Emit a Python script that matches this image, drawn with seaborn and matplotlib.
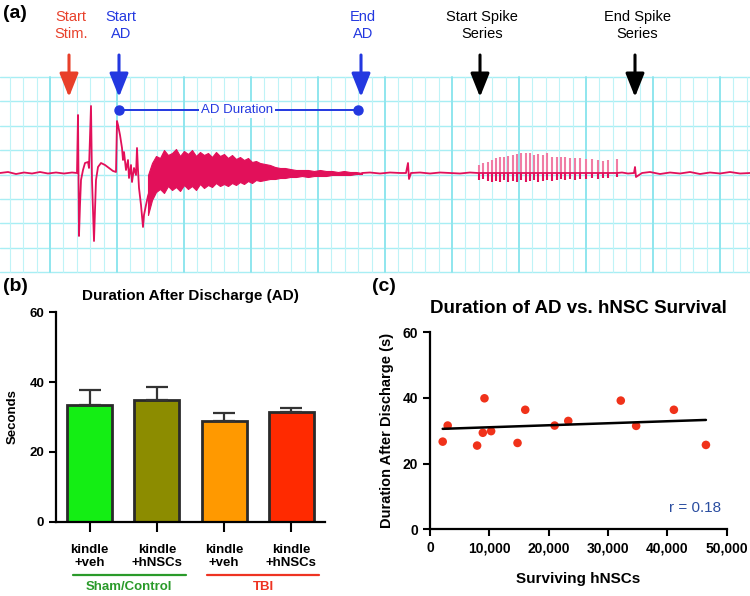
import numpy as np
import pandas as pd
import matplotlib
matplotlib.use("Agg")
import matplotlib.pyplot as plt
import seaborn as sns

# ---- (a) EEG trace (pixel coords, y grows downward) ----
trace_x = [0, 8, 16, 24, 32, 40, 48, 56, 64, 72, 77, 78, 79, 80, 81, 83, 85, 88, 89, 91, 92,
           94, 95, 96, 98, 101, 105, 109, 113, 116, 117, 118, 120, 122, 123, 124, 126, 128,
           129, 131, 132, 134, 136, 137, 138, 139, 141, 143, 144, 146, 148, 150]
trace_y = [173, 172, 174, 172.5, 173.5, 172, 173.5, 172.5, 173.5, 172.5, 173, 115, 236, 205,
           180, 170, 163, 162, 168, 106, 180, 241, 210, 180, 167, 163, 165, 168, 171, 172, 121,
           125, 135, 148, 160, 152, 170, 160, 178, 165, 182, 168, 175, 148, 170, 188, 205, 227,
           215, 205, 196, 190]

band_x = [148, 152, 156, 160, 164, 168, 172, 176, 180, 184, 188, 192, 196, 200, 204, 208,
          212, 216, 220, 224, 228, 232, 236, 240, 244, 248, 252, 256, 260, 265, 270, 275, 280,
          285, 290, 296, 302, 308, 314, 320, 326, 332, 338, 344, 350, 356, 362]
band_upper = [175, 163, 156, 158, 150, 155, 153, 149, 156, 151, 154, 150, 156, 152, 155, 153,
              157, 152, 156, 154, 158, 155, 159, 157, 160, 158, 162, 161, 163, 164, 165, 167,
              168, 168, 169, 170, 170, 170, 171, 170, 171, 171, 172, 171, 172, 172, 173]
band_lower = [215, 200, 192, 189, 193, 186, 190, 187, 191, 185, 189, 186, 190, 184, 188, 185,
              187, 183, 186, 184, 186, 183, 185, 182, 184, 181, 183, 180, 181, 180, 179, 179,
              178, 178, 177, 177, 176, 177, 176, 176, 176, 175, 175, 175, 175, 174, 174]

quiet_x = [362, 370, 380, 390, 400, 406, 408, 409, 411, 420, 430, 440, 450, 460, 470, 478,
           500, 530, 560, 590, 617, 622, 628, 634, 635, 636, 642, 650, 660, 670, 680, 690,
           700, 710, 720, 730, 740, 750]
quiet_y = [173, 172.5, 173.5, 172.5, 173, 173, 163, 179, 173, 172.5, 173.5, 172.5, 173, 173.5,
           172.5, 173, 173, 173, 173, 173, 173, 172.5, 173.5, 173, 167, 177, 173, 172, 174,
           172.5, 173.5, 172, 174, 172.5, 173.5, 172, 173.5, 173]

spike_x = [479, 483, 488, 492, 496, 500, 504, 508, 513, 517, 521, 526, 530, 534, 538, 543,
           547, 552, 557, 561, 565, 570, 575, 580, 586, 592, 598, 603, 608, 617]
spike_top = [165, 163, 162, 160, 158, 157, 157, 156, 155, 154, 153, 153, 153, 155, 154, 155,
             153, 157, 157, 157, 157, 158, 158, 158, 159, 159, 160, 161, 160, 159]
spike_bottom = [180, 179, 181, 182, 181, 182, 180, 182, 181, 182, 180, 182, 181, 180, 182, 181,
                180, 181, 180, 179, 180, 179, 180, 179, 179, 178, 179, 178, 178, 177]

event_x = [69, 119, 361, 480, 635]
event_labels = ["Start\nStim.", "Start\nAD", "End\nAD", "Start Spike\nSeries", "End Spike\nSeries"]
event_colors = ["#e8402a", "#2338e0", "#2338e0", "black", "black"]

# ---- (b) AD duration per group ----
groups = ["sham_veh", "sham_hnsc", "tbi_veh", "tbi_hnsc"]
group_ticks = ["kindle\n+veh", "kindle\n+hNSCs", "kindle\n+veh", "kindle\n+hNSCs"]
ad_means = [33.4, 34.9, 28.9, 31.4]
ad_upper = [37.7, 38.7, 31.2, 32.7]
bar_colors = ["#14ee14", "#8c8c00", "#ff9900", "#ff2a00"]

# ---- (c) AD duration vs surviving cells ----
surviving_cells = [2140, 2980, 7940, 8900, 9180, 10300, 14750, 16050, 21000, 23300, 32150,
                   34740, 41100, 46500]
ad_duration = [26.7, 31.6, 25.5, 29.4, 39.9, 29.9, 26.3, 36.4, 31.6, 33.0, 39.2, 31.5,
               36.4, 25.7]

sns.set_theme(style="ticks")
plt.rcParams["font.family"] = ["Liberation Sans", "DejaVu Sans"]
plt.rcParams["font.weight"] = "bold"
plt.rcParams["axes.labelweight"] = "bold"
plt.rcParams["axes.titleweight"] = "bold"
for k in ["text.color", "axes.labelcolor", "xtick.color", "ytick.color", "axes.edgecolor"]:
    plt.rcParams[k] = "black"

fig = plt.figure(figsize=(7.5, 5.96), dpi=100)
W, H = 750, 596

# ================= panel (a) =================
ax_a = fig.add_axes([0, 1 - 280 / H, 1, 280 / H])
ax_a.set_xlim(0, 750)
ax_a.set_ylim(280, 0)
ax_a.axis("off")

# chart paper grid
for y in np.arange(77, 273, 24.4):
    ax_a.plot([0, 750], [y, y], color="#a8eef4", lw=1.0, zorder=0)
for i, x in enumerate(np.arange(50 - 13.4 * 3, 751, 13.4)):
    if x < 0:
        continue
    major = (i - 3) % 5 == 0
    ax_a.plot([x, x], [77, 272], color="#8fe6ee" if major else "#bff3f7",
              lw=1.4 if major else 0.8, zorder=0)

trace_c = "#e2105a"
ax_a.plot(trace_x, trace_y, color=trace_c, lw=1.3, zorder=3)
ax_a.fill_between(band_x, band_upper, band_lower, color=trace_c, lw=0.8, zorder=3)
ax_a.plot(quiet_x, quiet_y, color=trace_c, lw=1.3, zorder=3)
ax_a.vlines(spike_x, spike_top, 173, color="#f07ca4", lw=1.5, zorder=2)
ax_a.vlines(spike_x, 173, spike_bottom, color=trace_c, lw=1.5, zorder=3)

for x, lab, c in zip(event_x, event_labels, event_colors):
    ax_a.text(x + 2, 10, lab, color=c, ha="center", va="top", fontsize=10.5,
              fontweight="normal", linespacing=1.25)
    ax_a.annotate("", xy=(x, 97), xytext=(x, 55),
                  arrowprops=dict(arrowstyle="-|>,head_length=0.55,head_width=0.22",
                                  color=c, lw=2.2, mutation_scale=26,
                                  shrinkA=0, shrinkB=0))

ax_a.plot([event_x[1], event_x[2] - 3], [110, 110], color="#2338e0", lw=1.4,
          marker="o", ms=6.5, zorder=4)
ax_a.text((event_x[1] + event_x[2]) / 2 - 3, 110, "AD Duration", color="#2338e0",
          ha="center", va="center", fontsize=9.5, fontweight="normal", zorder=5,
          bbox=dict(facecolor="white", edgecolor="none", pad=1.5))
ax_a.text(3, 14, "(a)", fontsize=14, fontweight="bold", va="center", ha="left")

# ================= panel (b) =================
ax_b = fig.add_axes([56 / W, 1 - 521.7 / H, 269 / W, 209.4 / H])
df_b = pd.DataFrame({"group": groups, "seconds": ad_means})
sns.barplot(data=df_b, x="group", y="seconds", hue="group", palette=bar_colors,
            legend=False, width=0.67, edgecolor="#2a2a2a", linewidth=2.0,
            saturation=1, errorbar=None, ax=ax_b)
err = np.array(ad_upper) - np.array(ad_means)
ax_b.errorbar(range(len(groups)), ad_means, yerr=[np.zeros(len(groups)), err],
              fmt="none", ecolor="#333333", elinewidth=1.6, capsize=8, capthick=1.6,
              zorder=1)
ax_b.set_xlim(-0.5, 3.5)
ax_b.set_ylim(0, 60)
ax_b.set_yticks([0, 20, 40, 60])
ax_b.set_xticks(range(len(groups)))
ax_b.set_xticklabels(group_ticks, fontsize=9.5, fontweight="bold", linespacing=1.1)
ax_b.tick_params(axis="y", labelsize=9.5, width=1.5, length=5)
ax_b.tick_params(axis="x", width=1.5, length=7, pad=9)
ax_b.set_xlabel("")
ax_b.set_ylabel("Seconds", fontsize=9.5, labelpad=8)
ax_b.set_title("Duration After Discharge (AD)", fontsize=11, pad=9)
sns.despine(ax=ax_b)
for s in ["left", "bottom"]:
    ax_b.spines[s].set_linewidth(1.6)

tr = ax_b.get_xaxis_transform()
ax_b.plot([-0.25, 1.43], [-0.255, -0.255], color="#2a9a2a", lw=1.6, transform=tr,
          clip_on=False)
ax_b.plot([1.75, 3.41], [-0.255, -0.255], color="#ee3322", lw=1.6, transform=tr,
          clip_on=False)
ax_b.text(0.59, -0.312, "Sham/Control", color="#2a9a2a", fontsize=9.5, ha="center",
          va="center", transform=tr)
ax_b.text(2.59, -0.312, "TBI", color="#ee3322", fontsize=9.5, ha="center", va="center",
          transform=tr)
fig.text(3 / W, 1 - 287 / H, "(b)", fontsize=14, fontweight="bold", va="center")

# ================= panel (c) =================
ax_c = fig.add_axes([430 / W, 1 - 529.3 / H, 296.7 / W, 197 / H])
df_c = pd.DataFrame({"cells": surviving_cells, "ad": ad_duration})
sns.regplot(data=df_c, x="cells", y="ad", ci=None, ax=ax_c,
            scatter_kws=dict(s=38, color="#f0321a", edgecolor="none", alpha=1),
            line_kws=dict(color="black", lw=1.8))
ax_c.set_xlim(0, 50000)
ax_c.set_ylim(0, 60)
ax_c.set_yticks([0, 20, 40, 60])
ax_c.set_xticks(range(0, 50001, 10000))
ax_c.set_xticklabels([f"{v:,}" for v in range(0, 50001, 10000)])
ax_c.tick_params(labelsize=10, width=1.5, length=5)
ax_c.set_xlabel("Surviving hNSCs", fontsize=11, labelpad=12)
ax_c.set_ylabel("Duration After Discharge (s)", fontsize=10.5, labelpad=6)
ax_c.set_title("Duration of AD vs. hNSC Survival", fontsize=13.5, pad=14)
sns.despine(ax=ax_c)
for s in ["left", "bottom"]:
    ax_c.spines[s].set_linewidth(1.6)
ax_c.text(0.98, 0.11, "r = 0.18", color="#2b4ea0", fontsize=11, fontweight="normal",
          ha="right", va="center", transform=ax_c.transAxes)
fig.text(372 / W, 1 - 287 / H, "(c)", fontsize=14, fontweight="bold", va="center")

fig.savefig("out.png", dpi=100)
